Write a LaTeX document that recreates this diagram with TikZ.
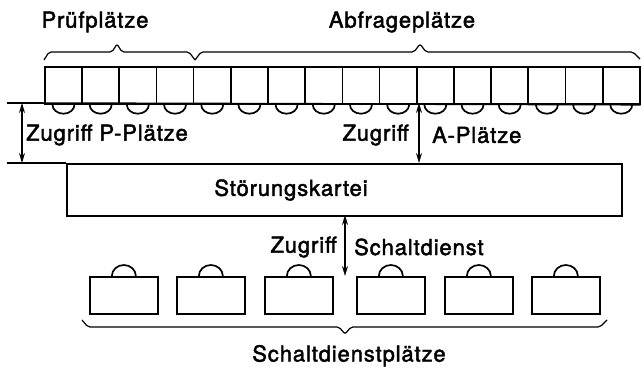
\documentclass[tikz,border=0pt]{standalone}
\usepackage{fontspec}
\setmainfont{TeX Gyre Heros}[LetterSpace=4,FakeBold=2]
\usetikzlibrary{arrows.meta}
\begin{document}
\begin{tikzpicture}[x=1pt,y=-1pt,
  ln/.style={line width=1.7pt},
  cell/.style={draw,line width=1.7pt,minimum width=37.19pt,minimum height=37pt,inner sep=0,anchor=north west},
  sbox/.style={draw,line width=1.7pt,minimum width=68pt,minimum height=37pt,inner sep=0,anchor=north west},
  dbl/.style={{Stealth[length=10pt,width=6pt]}-{Stealth[length=10pt,width=6pt]},line width=1.3pt},
  brace/.style={line width=1.2pt,rounded corners=2pt},
  lbl/.style={font=\fontsize{22}{24}\selectfont,inner sep=0}]
\useasboundingbox (0,0) rectangle (644,367);
% top row of positions
\foreach \i in {0,...,15}{
  \pgfmathsetmacro\l{44+\i*37.1875}
  \node[cell] (c\i) at (\l,66) {};
  \draw[ln] (c\i.south) ++(-11,0) arc[start angle=180,end angle=0,x radius=11,y radius=9];
}
\draw[ln] (7,103) -- (c15.south east);
% Stoerungskartei
\node[draw,line width=1.7pt,minimum width=555pt,minimum height=52pt,inner sep=0,anchor=north west] (kartei) at (66,163) {};
\node[lbl] (karteitext) at (291,190) {Störungskartei};
\draw[ln] (7,163) -- (kartei.north west);
% bottom positions
\foreach \x [count=\k] in {89,176,264,356,444,531}{
  \node[sbox] (s\k) at (\x,276) {};
  \draw[ln] (s\k.north) ++(-12,0) arc[start angle=180,end angle=360,x radius=12,y radius=11];
}
% arrows
\coordinate (p1) at (22,103); \coordinate (p2) at (22,163);
\coordinate (a1) at (419,103); \coordinate (a2) at (419,163);
\coordinate (z1) at (345,215); \coordinate (z2) at (345,276);
\draw[dbl] (p1) -- (p2);
\draw[dbl] (a1) -- (a2);
\draw[dbl] (z1) -- (z2);
% labels
\node[lbl] (lp) at (107,135) {Zugriff P-Plätze};
\node[lbl,anchor=east] (la1) at (409,135) {Zugriff};
\node[lbl,anchor=west] (la2) at (432,135) {A-Plätze};
\node[lbl,anchor=east] (ls1) at (337,247) {Zugriff};
\node[lbl,anchor=west] (ls2) at (354,247) {Schaltdienst};
\node[lbl] (tp) at (95,22) {Prüfplätze};
\node[lbl] (ta) at (402,22) {Abfrageplätze};
\node[lbl,anchor=base] (ts) at (349,361.5) {Schaltdienstplätze};
% braces
\draw[brace] (44,60) -- (49,52) -- (112,52) -- (117,44) -- (122,52) -- (189,52) -- (195,60);
\draw[brace] (195,60) -- (201,52) -- (414,52) -- (420,44) -- (426,52) -- (633,52) -- (640,59);
\draw[brace] (82,320) -- (88,327) -- (339,327) -- (345,334) -- (351,327) -- (600,327) -- (607,320);
\end{tikzpicture}
\end{document}
